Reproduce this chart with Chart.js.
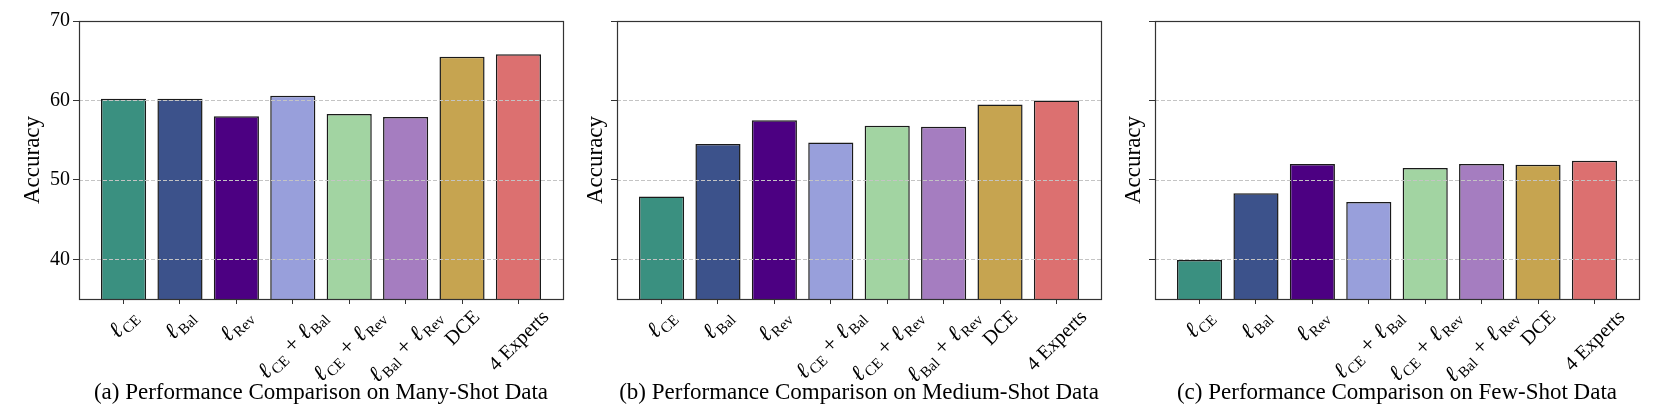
<!DOCTYPE html>
<html>
<head>
<meta charset="utf-8">
<script src="https://cdn.jsdelivr.net/npm/chart.js@4.4.1/dist/chart.umd.min.js"></script>
<style>
  html, body { margin: 0; padding: 0; background: #fff; }
  #wrap { position: relative; width: 1661px; height: 415px; overflow: hidden; }
  canvas { position: absolute; top: 0; }
</style>
</head>
<body>
<div id="wrap">
  <canvas id="chartMany" width="578" height="415" style="left:0px"></canvas>
  <canvas id="chartMedium" width="578" height="415" style="left:538px"></canvas>
  <canvas id="chartFew" width="578" height="415" style="left:1076px"></canvas>
</div>
<script>
// labels: "ℓ_XX" = ell with subscript
const categories = ["ℓ_CE", "ℓ_Bal", "ℓ_Rev", "ℓ_CE + ℓ_Bal", "ℓ_CE + ℓ_Rev", "ℓ_Bal + ℓ_Rev", "DCE", "4 Experts"];
const manyShot = [60.2, 60.2, 58.0, 60.6, 58.3, 57.9, 65.5, 65.8];
const mediumShot = [47.9, 54.5, 57.5, 54.7, 56.8, 56.7, 59.5, 60.0];
const fewShot = [39.9, 48.3, 52.0, 47.2, 51.5, 52.0, 51.9, 52.4];
const barColors = ["#3a9080", "#3c528b", "#4c0082", "#989fdb", "#a2d4a2", "#a57dc0", "#c6a450", "#dc7070"];
const yTicks = [40, 50, 60, 70];
const captions = [
  "(a) Performance Comparison on Many-Shot Data",
  "(b) Performance Comparison on Medium-Shot Data",
  "(c) Performance Comparison on Few-Shot Data"
];

const SERIF = '"Liberation Serif", "DejaVu Serif", serif';

// split "ℓ_CE + ℓ_Bal" into drawable pieces (ell, subscript, operator, plain)
function parseLabel(str) {
  const parts = [];
  str.split(/(ℓ_\w+| \+ )/).forEach(p => {
    if (!p) return;
    if (p.startsWith("ℓ_")) {
      parts.push({ text: "ℓ", ell: true });
      parts.push({ text: p.slice(2), sub: true });
    } else if (p === " + ") {
      parts.push({ text: "+", op: true });
    } else {
      parts.push({ text: p });
    }
  });
  return parts;
}

function partFont(p, size) {
  if (p.ell) return "italic " + (size * 1.15) + "px " + SERIF;
  if (p.op) return (size * 1.15) + "px " + SERIF;
  return (p.sub ? size * 0.75 : size) + "px " + SERIF;
}

const frameAndLabels = {
  id: "frameAndLabels",
  afterDatasetsDraw(chart) {
    // dashed grid goes over the bars, like matplotlib
    const ctx = chart.ctx, a = chart.chartArea, ys = chart.scales.y;
    ctx.save();
    ctx.strokeStyle = "#c4c4c4";
    ctx.lineWidth = 1;
    ctx.setLineDash([4, 2]);
    yTicks.forEach(v => {
      const y = Math.round(ys.getPixelForValue(v)) + 0.5;
      ctx.beginPath();
      ctx.moveTo(a.left, y);
      ctx.lineTo(a.right, y);
      ctx.stroke();
    });
    ctx.restore();
  },
  afterDraw(chart, args, opts) {
    const ctx = chart.ctx, a = chart.chartArea, xs = chart.scales.x;
    ctx.save();
    ctx.strokeStyle = "#333";
    ctx.lineWidth = 1.2;
    ctx.strokeRect(Math.round(a.left) + 0.5, Math.round(a.top) + 0.5,
      Math.round(a.right - a.left), Math.round(a.bottom - a.top));

    const size = 20;
    ctx.fillStyle = "#000";
    categories.forEach((lab, i) => {
      const parts = parseLabel(lab);
      let w = 0;
      parts.forEach(p => {
        ctx.font = partFont(p, size);
        p.pad = p.op ? size * 0.32 : (p.ell ? 1.5 : 0);
        p.w = ctx.measureText(p.text).width + (p.op ? 2 * p.pad : p.pad);
        w += p.w;
      });
      const box = (w + size * 0.9) * Math.SQRT1_2;
      const cx = xs.getPixelForValue(i);
      const cy = a.bottom + 8 + box / 2;
      ctx.save();
      ctx.translate(cx, cy);
      ctx.rotate(-Math.PI / 4);
      ctx.textAlign = "left";
      ctx.textBaseline = "alphabetic";
      let x = -w / 2;
      const base = size * 0.32;
      parts.forEach(p => {
        ctx.font = partFont(p, size);
        ctx.fillText(p.text, x + (p.op ? p.pad : 0), p.sub ? base + size * 0.2 : base);
        x += p.w;
      });
      ctx.restore();
    });

    ctx.font = "23px " + SERIF;
    ctx.textAlign = "center";
    ctx.textBaseline = "alphabetic";
    ctx.fillText(opts.caption, (a.left + a.right) / 2, 399);
    ctx.restore();
  }
};

function makeChart(id, values, showYLabels, titlePad, caption) {
  new Chart(document.getElementById(id), {
    type: "bar",
    data: {
      datasets: [{
        data: values.map((v, i) => ({ x: i, y: v })),
        backgroundColor: barColors,
        borderColor: "#1a1a1a",
        borderWidth: 1.5,
        borderSkipped: "start",
        barPercentage: 0.8,
        categoryPercentage: 1.0
      }]
    },
    options: {
      responsive: false,
      animation: false,
      devicePixelRatio: 1,
      layout: { padding: { top: 21, right: 15, left: 0, bottom: 0 } },
      plugins: {
        legend: { display: false },
        tooltip: { enabled: false },
        frameAndLabels: { caption: caption }
      },
      scales: {
        x: {
          type: "linear",
          offset: false,
          min: -0.79,
          max: 7.79,
          afterBuildTicks: s => { s.ticks = categories.map((c, i) => ({ value: i })); },
          afterFit: s => { s.height = 116; },
          ticks: { autoSkip: false, callback: () => "" },
          grid: { display: true, offset: false, drawOnChartArea: false, drawTicks: true, tickLength: 5, tickColor: "#333" },
          border: { display: false }
        },
        y: {
          min: 35,
          max: 70,
          afterBuildTicks: s => { s.ticks = yTicks.map(v => ({ value: v })); },
          afterFit: s => { s.width = 79; },
          ticks: {
            padding: 3,
            color: "#000",
            font: { family: SERIF, size: 20 },
            callback: v => showYLabels ? v : ""
          },
          grid: { display: true, drawOnChartArea: false, drawTicks: true, tickLength: 6, tickColor: "#333" },
          border: { display: false },
          title: {
            display: true,
            text: "Accuracy",
            color: "#000",
            font: { family: SERIF, size: 23 },
            padding: { top: titlePad, bottom: 0 }
          }
        }
      }
    },
    plugins: [frameAndLabels]
  });
}

makeChart("chartMany", manyShot, true, 19, captions[0]);
makeChart("chartMedium", mediumShot, false, 44, captions[1]);
makeChart("chartFew", fewShot, false, 44, captions[2]);
</script>
</body>
</html>
